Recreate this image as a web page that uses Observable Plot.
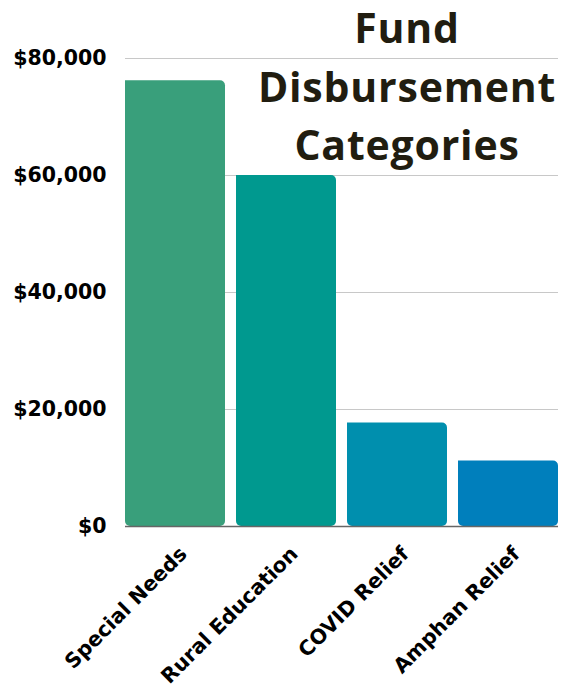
<!DOCTYPE html>
<html>
<head>
<meta charset="utf-8">
<script src="https://cdn.jsdelivr.net/npm/d3@7"></script>
<script src="https://cdn.jsdelivr.net/npm/@observablehq/plot@0.6"></script>
<style>
  html, body { margin: 0; padding: 0; background: #fff; }
  #wrap { position: relative; width: 566px; height: 688px; }
  #title {
    position: absolute; top: -2px; left: 256px; width: 302px;
    text-align: center; font-family: "Open Sans", sans-serif; font-weight: 700;
    font-size: 41px; line-height: 58.5px; color: #211d10; letter-spacing: 0.8px;
  }
</style>
</head>
<body>
<div id="wrap">
  <div id="chart"></div>
  <div id="title">Fund<br>Disbursement<br>Categories</div>
</div>
<script>
const categories = ["Special Needs", "Rural Education", "COVID Relief", "Amphan Relief"];
const amounts = [76200, 60000, 17700, 11200];
const colors = ["#399f7b", "#00998f", "#008fae", "#007fbc"];
const yTicks = [0, 20000, 40000, 60000, 80000];

const data = categories.map((c, i) => ({category: c, amount: amounts[i], color: colors[i]}));

const chart = Plot.plot({
  width: 566,
  height: 688,
  marginLeft: 125,
  marginRight: 8,
  marginTop: 58,
  marginBottom: 162,
  style: {fontFamily: "DejaVu Sans, sans-serif", fontSize: "20px", fontWeight: 700, color: "#000"},
  x: {domain: categories, paddingInner: 0.1, paddingOuter: 0, label: null},
  y: {domain: [0, 80000], ticks: yTicks, label: null},
  marks: [
    Plot.gridY(yTicks, {stroke: "#c8c8c8", strokeOpacity: 1, strokeWidth: 1}),
    Plot.barY(data, {x: "category", y: "amount", fill: "color", ry2: 5, rx2: 5}),
    Plot.ruleY([0], {stroke: "#666", strokeWidth: 1.5}),
    Plot.axisY({ticks: yTicks, tickSize: 0, tickPadding: 19, tickFormat: d => "$" + d3.format(",")(d), label: null, fontSize: 20.5, fontWeight: 700, fontFamily: "DejaVu Sans"}),
    Plot.axisX({tickSize: 0, tickPadding: 24, dx: 8, tickRotate: -45, label: null, fontSize: 20.5, fontWeight: 700, fontFamily: "DejaVu Sans"})
  ]
});
document.getElementById("chart").appendChild(chart);
</script>
</body>
</html>
